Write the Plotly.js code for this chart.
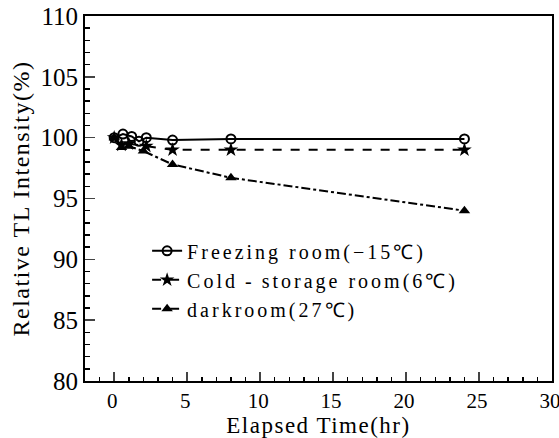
<!DOCTYPE html>
<html><head><meta charset="utf-8">
<script src="https://cdn.plot.ly/plotly-3.0.1.min.js"></script>
<style>
body{margin:0;background:#fff}#c{width:559px;height:438px}
.legendtext{letter-spacing:3px}
.xtitle,.ytitle{letter-spacing:1.5px}
</style>
</head><body><div id="c"></div>
<script>
const freezeX = [0, 0.6, 1.2, 1.7, 2.2, 4, 8, 24];
const freezeY = [100, 100.3, 100.1, 99.7, 100, 99.8, 99.9, 99.9];
const coldX = [0, 0.5, 1, 2.2, 4, 8, 24];
const coldY = [100, 99.4, 99.5, 99.3, 99.0, 99.0, 99.0];
const darkX = [0, 0.5, 1, 2, 4, 8, 24];
const darkY = [100, 99.2, 99.3, 98.9, 97.8, 96.7, 94.0];
const names = ["Freezing room(\u221215\u2103)", "Cold\u2009-\u2009storage room(6\u2103)", "darkroom(27\u2103)"];

const font = "Liberation Serif";
const traces = [
  {x: freezeX, y: freezeY, name: names[0], mode: "lines+markers",
   line: {color: "#000", width: 2, dash: "solid"},
   marker: {symbol: "circle-open", size: 9, color: "#000", line: {width: 2, color: "#000"}}},
  {x: coldX, y: coldY, name: names[1], mode: "lines+markers",
   line: {color: "#000", width: 2, dash: "dash"},
   marker: {symbol: "star", size: 11, color: "#000"}},
  {x: darkX, y: darkY, name: names[2], mode: "lines+markers",
   line: {color: "#000", width: 2, dash: "dashdot"},
   marker: {symbol: "triangle-up", size: 10, color: "#000"}}
];
const layout = {
  width: 559, height: 438,
  margin: {l: 85, r: 7, t: 16, b: 57},
  paper_bgcolor: "#fff", plot_bgcolor: "#fff",
  font: {family: font, color: "#000", size: 20},
  showlegend: true,
  legend: {x: 0.133, y: 0.41, xanchor: "left", yanchor: "top", bgcolor: "rgba(0,0,0,0)",
           font: {family: font, size: 20, color: "#000"}, tracegroupgap: 0, itemwidth: 30},
  xaxis: {range: [-2, 30], tickvals: [0,5,10,15,20,25,30], ticks: "inside", ticklen: 9,
          ticklabeloverflow: "allow", ticklabelshift: -2, ticklabelstandoff: 0,
          tickwidth: 1.5, showgrid: false, zeroline: false, showline: true, linewidth: 2,
          linecolor: "#000", mirror: true, tickfont: {family: font, size: 21, color: "#000"},
          minor: {dtick: 1, ticks: "inside", ticklen: 4, tickwidth: 1.5, tickcolor: "#000", showgrid: false},
          title: {text: "Elapsed Time(hr)", font: {family: font, size: 23, color: "#000"}, standoff: 1}},
  yaxis: {range: [80, 110], tickvals: [80,85,90,95,100,105,110], ticks: "inside", ticklen: 10,
          ticklabeloverflow: "allow",
          tickwidth: 1.5, showgrid: false, zeroline: false, showline: true, linewidth: 2,
          linecolor: "#000", mirror: true, tickfont: {family: font, size: 25, color: "#000"},
          minor: {dtick: 1, ticks: "inside", ticklen: 5, tickwidth: 1.5, tickcolor: "#000", showgrid: false},
          title: {text: "Relative TL Intensity(%)", font: {family: font, size: 24, color: "#000"}, standoff: 4}}
};
Plotly.newPlot("c", traces, layout, {staticPlot: true});
</script></body></html>
